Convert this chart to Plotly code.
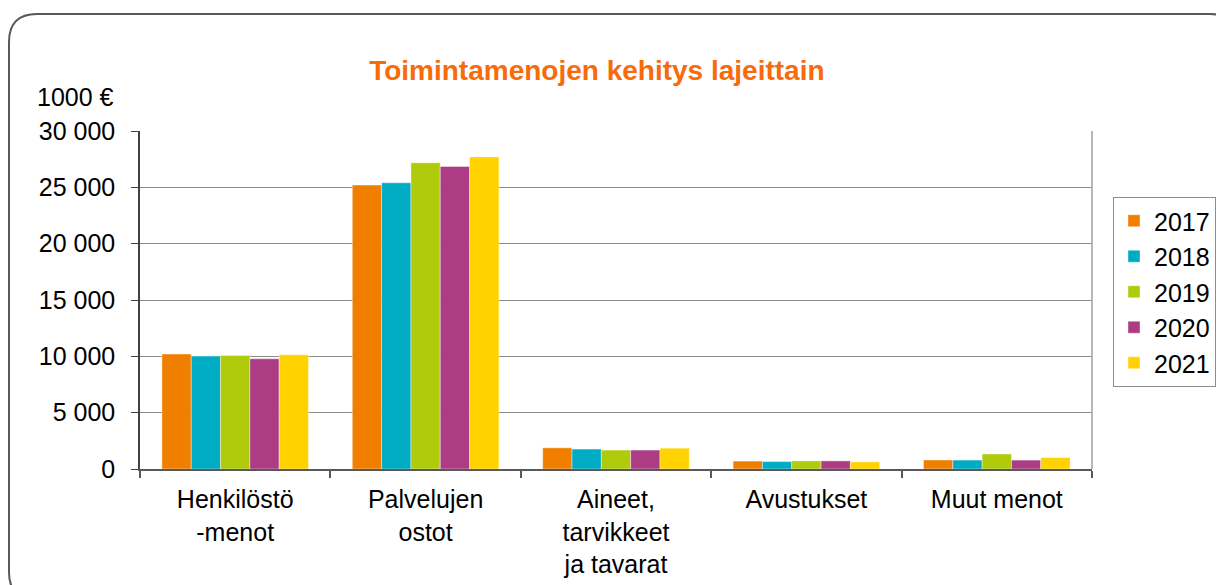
import plotly.graph_objects as go

categories = ["Henkilöstö<br>-menot", "Palvelujen<br>ostot", "Aineet,<br>tarvikkeet<br>ja tavarat", "Avustukset", "Muut menot"]
years = ["2017", "2018", "2019", "2020", "2021"]
v2017 = [10200, 25200, 1880, 700, 800]
v2018 = [10020, 25400, 1770, 660, 790]
v2019 = [10080, 27180, 1680, 720, 1330]
v2020 = [9780, 26850, 1680, 720, 790]
v2021 = [10130, 27700, 1850, 630, 1010]
values = [v2017, v2018, v2019, v2020, v2021]
colors = ["#F07F00", "#00ACC4", "#B0CB0C", "#AC3C84", "#FFD200"]

OFF = 8  # page body margin
W, H = 1224 - OFF, 585 - OFF
L, R, T, B = 140 - OFF, 132, 131 - OFF, 116
PW, PH = W - L - R, H - T - B

def px(x):
    return (x - OFF - L) / PW

def py(y):
    return (H - B - (y - OFF)) / PH

FS = 25
fig = go.Figure()
for i, (yr, vals) in enumerate(zip(years, values)):
    fig.add_trace(go.Bar(
        x=categories, y=vals, name=yr,
        marker=dict(color=colors[i], line=dict(color="rgba(255,255,255,0.5)", width=0.8)),
        legendgroup=yr,
    ))

# rounded outer border
x0, y0, x1, y1, r = 9, 14, 1238, 600, 28
path = (f"M {px(x0)},{py(y0 + r)} Q {px(x0)},{py(y0)} {px(x0 + r)},{py(y0)} "
        f"L {px(x1 - r)},{py(y0)} Q {px(x1)},{py(y0)} {px(x1)},{py(y0 + r)} "
        f"L {px(x1)},{py(y1 - r)} Q {px(x1)},{py(y1)} {px(x1 - r)},{py(y1)} "
        f"L {px(x0 + r)},{py(y1)} Q {px(x0)},{py(y1)} {px(x0)},{py(y1 - r)} Z")
fig.add_shape(type="path", path=path, xref="paper", yref="paper",
              line=dict(color="#595959", width=2), layer="below")
# plot-area right border
fig.add_shape(type="line", xref="paper", yref="paper", x0=1, x1=1, y0=0, y1=1,
              line=dict(color="#A0A0A0", width=1.5))

fig.add_annotation(text="1000 €", xref="paper", yref="paper", x=px(116), y=py(97),
                   xanchor="right", yanchor="middle", showarrow=False,
                   font=dict(size=FS, color="#000000"))

fig.update_layout(
    width=W, height=H,
    margin=dict(l=L, r=R, t=T, b=B, autoexpand=False),
    paper_bgcolor="white", plot_bgcolor="white",
    font=dict(family="Liberation Sans, Arial, sans-serif", size=FS, color="#000000"),
    separators=", ",
    title=dict(text="<b>Toimintamenojen kehitys lajeittain</b>", x=px(601), xanchor="center",
               y=1 - (70 - OFF) / H, yanchor="middle",
               font=dict(size=28, color="#F96A0A", family="Liberation Sans, Arial, sans-serif")),
    barmode="group", bargap=0.23, bargroupgap=0,
    showlegend=True,
    legend=dict(x=px(1113), xanchor="left", y=py(292), yanchor="middle",
                bordercolor="#8C8C8C", borderwidth=1, bgcolor="white",
                font=dict(size=FS), tracegroupgap=0, itemwidth=30),
    xaxis=dict(showline=True, linecolor="#595959", linewidth=2,
               ticks="outside", tickson="boundaries", ticklen=7, tickcolor="#595959", tickwidth=2,
               ticklabelstandoff=7,
               showgrid=False, automargin=False, tickfont=dict(size=FS)),
    yaxis=dict(range=[0, 30000], dtick=5000, tickformat=",d",
               showline=True, linecolor="#404040", linewidth=1.5,
               ticks="outside", ticklen=7, tickcolor="#404040",
               ticklabelstandoff=11,
               showgrid=True, gridcolor="#8C8C8C", gridwidth=1,
               zeroline=False, automargin=False, tickfont=dict(size=FS)),
)

fig.write_html("out.html")
